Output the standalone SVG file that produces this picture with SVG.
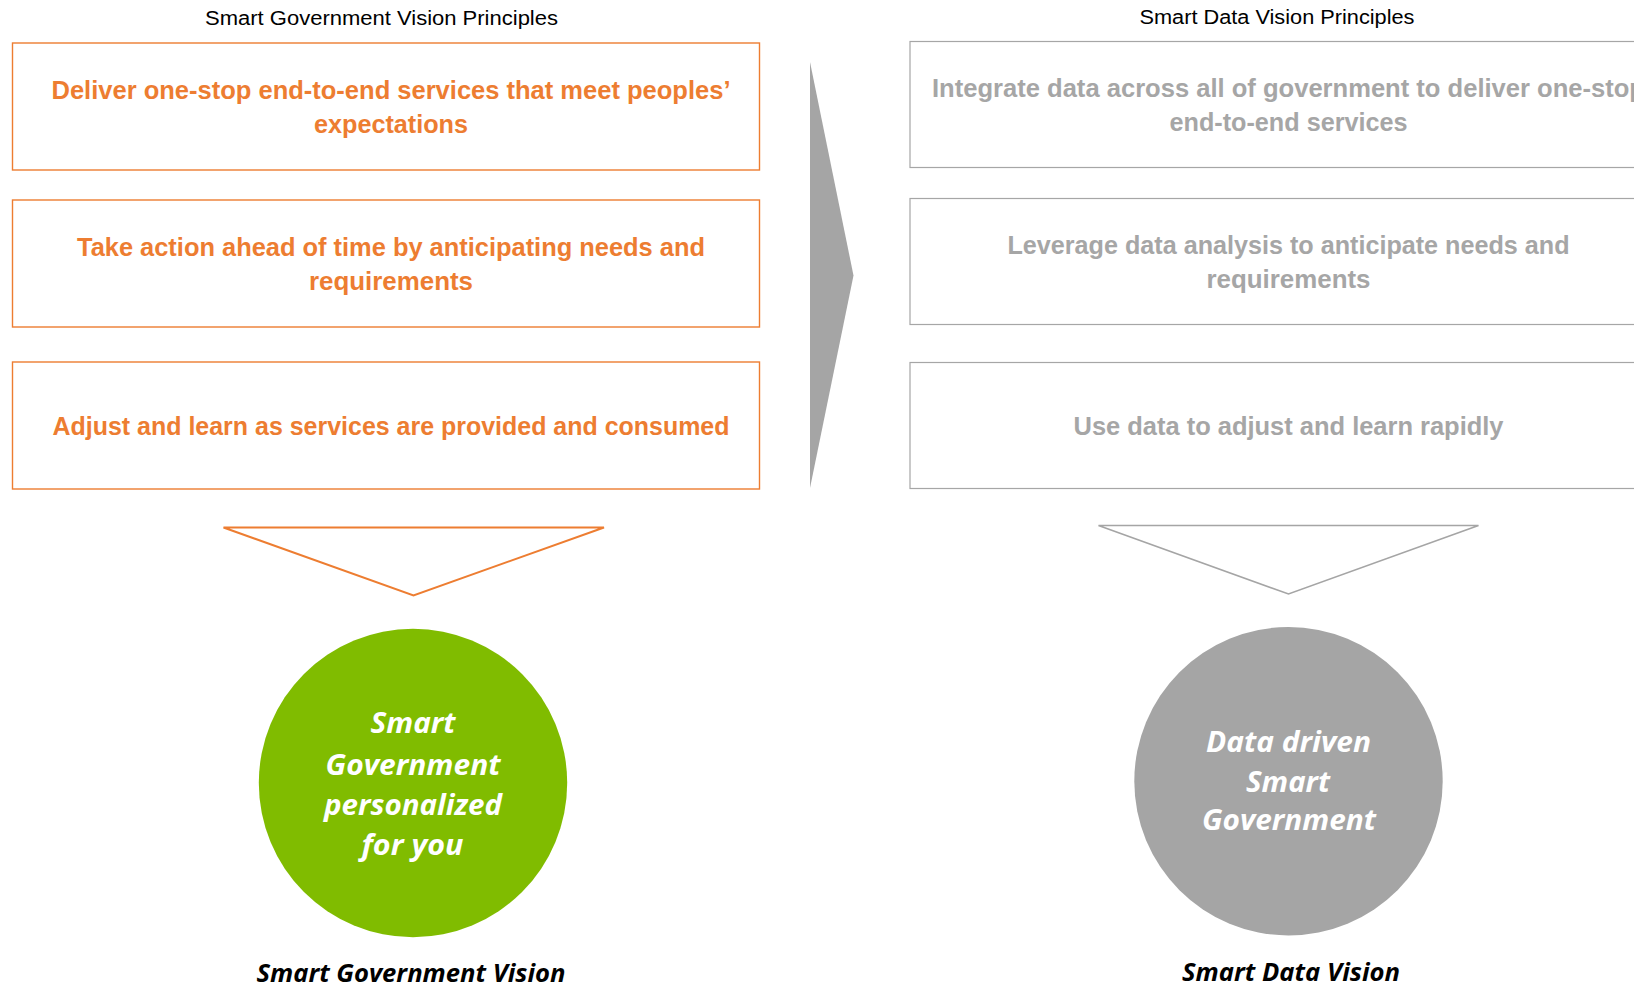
<svg xmlns="http://www.w3.org/2000/svg" width="1634" height="986" viewBox="0 0 1634 986">
<style>
.title{font-family:"Liberation Sans",Arial,sans-serif;font-size:20px;fill:#000;text-anchor:middle}
.otxt{font-family:"Liberation Sans",Arial,sans-serif;font-weight:bold;font-size:25px;fill:#ED7D31;text-anchor:middle}
.gtxt{font-family:"Liberation Sans",Arial,sans-serif;font-weight:bold;font-size:25px;fill:#A6A6A6;text-anchor:middle}
.obox{fill:#fff;stroke:#ED7D31;stroke-width:1.4}
.gbox{fill:#fff;stroke:#A6A6A6;stroke-width:1.2}
.ctxt{font-family:"Open Sans","Liberation Sans",sans-serif;font-weight:bold;font-style:italic;font-size:28px;fill:#fff;text-anchor:middle}
.cap{font-family:"Open Sans","Liberation Sans",sans-serif;font-weight:bold;font-style:italic;font-size:25px;fill:#000;text-anchor:middle}
</style>
<rect width="1634" height="986" fill="#fff"/>
<text class="title" x="381.5" y="25" textLength="353" lengthAdjust="spacingAndGlyphs">Smart Government Vision Principles</text>
<text class="title" x="1277" y="24" textLength="275" lengthAdjust="spacingAndGlyphs">Smart Data Vision Principles</text>

<g id="left-box-1">
<rect class="obox" x="12.5" y="43" width="747" height="127"/>
<text class="otxt" x="391" y="99" textLength="679" lengthAdjust="spacingAndGlyphs">Deliver one-stop end-to-end services that meet peoples’</text>
<text class="otxt" x="391" y="133" textLength="154" lengthAdjust="spacingAndGlyphs">expectations</text>
</g>
<g id="left-box-2">
<rect class="obox" x="12.5" y="200" width="747" height="127"/>
<text class="otxt" x="391" y="256" textLength="628" lengthAdjust="spacingAndGlyphs">Take action ahead of time by anticipating needs and</text>
<text class="otxt" x="391" y="290" textLength="164" lengthAdjust="spacingAndGlyphs">requirements</text>
</g>
<g id="left-box-3">
<rect class="obox" x="12.5" y="362" width="747" height="127"/>
<text class="otxt" x="391" y="435" textLength="677" lengthAdjust="spacingAndGlyphs">Adjust and learn as services are provided and consumed</text>
</g>

<g id="right-box-1">
<rect class="gbox" x="910" y="41.5" width="747" height="126"/>
<text class="gtxt" x="1288.5" y="97" textLength="713" lengthAdjust="spacingAndGlyphs">Integrate data across all of government to deliver one-stop</text>
<text class="gtxt" x="1288.5" y="131" textLength="238" lengthAdjust="spacingAndGlyphs">end-to-end services</text>
</g>
<g id="right-box-2">
<rect class="gbox" x="910" y="198.5" width="747" height="126"/>
<text class="gtxt" x="1288.5" y="253.5" textLength="562" lengthAdjust="spacingAndGlyphs">Leverage data analysis to anticipate needs and</text>
<text class="gtxt" x="1288.5" y="287.5" textLength="164" lengthAdjust="spacingAndGlyphs">requirements</text>
</g>
<g id="right-box-3">
<rect class="gbox" x="910" y="362.5" width="747" height="126"/>
<text class="gtxt" x="1288.5" y="435" textLength="430" lengthAdjust="spacingAndGlyphs">Use data to adjust and learn rapidly</text>
</g>

<g id="connectors">
<polygon id="big-arrow" points="810,62 853.5,275.5 810,488" fill="#A5A5A5"/>
<polygon id="left-funnel" points="223.5,527.5 604,527.5 413.5,595.5" fill="#fff" stroke="#ED7D31" stroke-width="2"/>
<polygon id="right-funnel" points="1098.5,525.5 1478.5,525.5 1288.5,594" fill="#fff" stroke="#A5A5A5" stroke-width="1.6"/>
</g>

<g id="left-circle">
<circle cx="413" cy="783" r="154.2" fill="#80BC00"/>
<text class="ctxt" x="413" y="733" textLength="85" lengthAdjust="spacingAndGlyphs">Smart</text>
<text class="ctxt" x="413" y="775" textLength="175" lengthAdjust="spacingAndGlyphs">Government</text>
<text class="ctxt" x="413" y="815" textLength="178" lengthAdjust="spacingAndGlyphs">personalized</text>
<text class="ctxt" x="412.5" y="855" textLength="102" lengthAdjust="spacingAndGlyphs">for you</text>
</g>
<g id="right-circle">
<circle cx="1288.5" cy="781.2" r="154.2" fill="#A5A5A5"/>
<text class="ctxt" x="1288.5" y="752" textLength="165" lengthAdjust="spacingAndGlyphs">Data driven</text>
<text class="ctxt" x="1288" y="791.5" textLength="84" lengthAdjust="spacingAndGlyphs">Smart</text>
<text class="ctxt" x="1289" y="830" textLength="174" lengthAdjust="spacingAndGlyphs">Government</text>
</g>

<g id="left-caption">
<text class="cap" x="411" y="982" textLength="309" lengthAdjust="spacingAndGlyphs">Smart Government Vision</text>
</g>
<g id="right-caption">
<text class="cap" x="1291" y="981" textLength="218" lengthAdjust="spacingAndGlyphs">Smart Data Vision</text>
</g>
</svg>
